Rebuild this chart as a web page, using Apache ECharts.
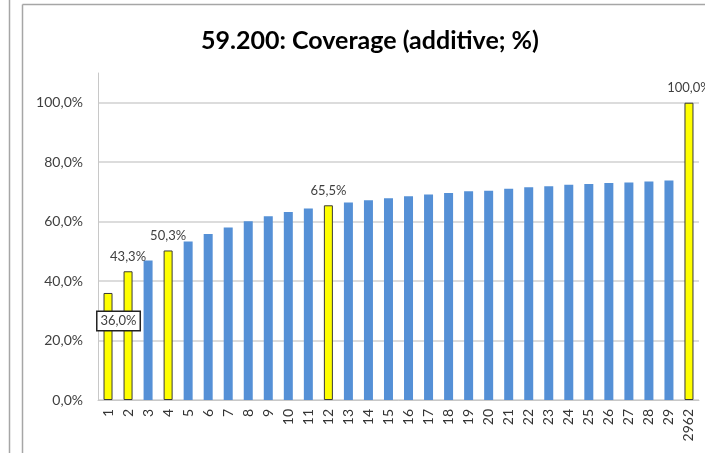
<!DOCTYPE html>
<html>
<head>
<meta charset="utf-8">
<script src="https://cdn.jsdelivr.net/npm/echarts@6/dist/echarts.min.js"></script>
<style>
  html, body { margin: 0; padding: 0; background: #fff; }
  #chart { width: 705px; height: 453px; }
</style>
</head>
<body>
<div id="chart"></div>
<script>
// nombre de sites
const categories = ['1', '2', '3', '4', '5', '6', '7', '8', '9', '10', '11', '12', '13', '14', '15',
  '16', '17', '18', '19', '20', '21', '22', '23', '24', '25', '26', '27', '28', '29', '2962']
// couverture cumulée en %
const coverage = [36.0, 43.3, 46.9, 50.3, 53.3, 55.8, 58.0, 60.1, 61.8, 63.2, 64.4, 65.5, 66.4, 67.2, 67.9,
  68.5, 69.1, 69.6, 70.2, 70.4, 71.1, 71.6, 71.9, 72.4, 72.7, 73.0, 73.2, 73.5, 73.8, 100.0]
// barres en jaune (avec étiquette)
const highlighted = ['1', '2', '4', '12', '2962']
const yTicks = [0, 20, 40, 60, 80, 100]

const fmt = v => v.toFixed(1).replace('.', ',') + '%'
const font = 'Lato, "Open Sans", sans-serif'

const seriesData = coverage.map((v, i) => {
  const cat = categories[i]
  const hi = highlighted.includes(cat)
  const item = {
    value: v,
    itemStyle: hi
      ? { color: '#ffff00', borderColor: '#3a3a3a', borderWidth: 1 }
      : { color: '#5590d6' }
  }
  if (hi) {
    item.label = { show: true, position: 'top', distance: 8 }
    if (i === 0) {
      // étiquette encadrée de la première barre
      item.label = {
        show: true,
        position: [15, 28],
        align: 'center',
        verticalAlign: 'middle',
        backgroundColor: '#fff',
        borderColor: '#222',
        borderWidth: 1.5,
        padding: [3, 3, 2, 3]
      }
    }
  }
  return item
})

const option = {
  animation: false,
  backgroundColor: '#fff',
  title: {
    text: '59.200: Coverage (additive; %)',
    left: 365,
    top: 23,
    textAlign: 'center',
    textStyle: { fontFamily: font, fontSize: 25, fontWeight: 'bold', color: '#000' }
  },
  grid: { left: 98, top: 73, width: 601, bottom: 53 },
  xAxis: {
    type: 'category',
    data: categories,
    axisLine: { lineStyle: { color: '#c8c8c8', width: 1 } },
    axisTick: { show: false },
    axisLabel: {
      interval: 0,
      rotate: 90,
      margin: 9,
      color: '#333',
      fontFamily: font,
      fontSize: 14
    }
  },
  yAxis: {
    type: 'value',
    min: 0,
    max: 110,
    interval: 20,
    axisLine: { show: true, lineStyle: { color: '#c8c8c8', width: 1 } },
    axisTick: { show: false },
    splitLine: { show: true, showMaxLine: false, lineStyle: { color: '#d0d0d0', width: 1.5 } },
    axisLabel: {
      showMaxLabel: false,
      margin: 15,
      color: '#404040',
      fontFamily: font,
      fontSize: 14,
      formatter: v => (yTicks.includes(v) ? fmt(v) : '')
    }
  },
  series: [
    {
      type: 'bar',
      data: seriesData,
      barWidth: 9,
      label: {
        show: false,
        color: '#404040',
        fontFamily: font,
        fontSize: 13,
        formatter: p => fmt(p.value)
      }
    }
  ],
  graphic: [
    // cadres gris de la feuille
    { type: 'line', shape: { x1: 9.5, y1: 0, x2: 9.5, y2: 453 }, style: { stroke: '#a6a6a6', lineWidth: 1.5 } },
    { type: 'line', shape: { x1: 22.5, y1: 4.5, x2: 22.5, y2: 453 }, style: { stroke: '#a6a6a6', lineWidth: 1.5 } },
    { type: 'line', shape: { x1: 22.5, y1: 4.5, x2: 705, y2: 4.5 }, style: { stroke: '#a6a6a6', lineWidth: 1.5 } }
  ]
}

const myChart = echarts.init(document.getElementById('chart'), null, { renderer: 'canvas' })
option && myChart.setOption(option)
</script>
</body>
</html>
